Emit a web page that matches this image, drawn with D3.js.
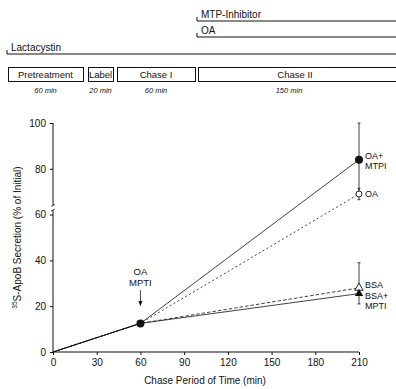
<!DOCTYPE html>
<html>
<head>
<meta charset="utf-8">
<script src="https://cdn.jsdelivr.net/npm/d3@7"></script>
<style>
  body { margin: 0; background: #fff; }
  svg { font-family: "Liberation Sans", Arial, sans-serif; }
  svg text, svg tspan { fill: #111; }
</style>
</head>
<body>
<div id="chart"></div>
<script>
// data
const times = [0, 60, 210];
const seriesNames = ["OA+MTPI", "OA", "BSA", "BSA+MPTI"];
const oaMtpi = [0, 12.5, 84];
const oa = [0, 12.5, 69];
const bsa = [0, 12.5, 28];
const bsaMpti = [0, 12.5, 25.5];
const errors = [16, 2.5, 11, 4.5];  // error at 210 min
const xTicks = [0, 30, 60, 90, 120, 150, 180, 210];
const yTicks = [0, 20, 40, 60, 80, 100];
const phases = ["Pretreatment", "Label", "Chase I", "Chase II"];
const phaseTimes = ["60 min", "20 min", "60 min", "150 min"];
const treatments = ["MTP-Inhibitor", "OA", "Lactacystin"];

const width = 396, height = 389;
const margin = {top: 123, right: 37, bottom: 37, left: 53};
const gw = width - margin.left - margin.right;
const gh = height - margin.top - margin.bottom;

const svg = d3.select("#chart").append("svg")
  .attr("width", width)
  .attr("height", height);

// treatment schedule at the top
const sched = svg.append("g").attr("class", "schedule");
const treatRows = [
  {x: 197, y: 21},
  {x: 197, y: 37},
  {x: 7, y: 54}
];
treatments.forEach((t, i) => {
  const r = treatRows[i];
  sched.append("path")
    .attr("d", `M${r.x},${r.y - 4}V${r.y}H${width}`)
    .attr("fill", "none")
    .attr("stroke", "#111")
    .attr("stroke-width", 1);
  sched.append("text")
    .attr("x", r.x + 4)
    .attr("y", r.y - 3)
    .attr("font-size", 10)
    .text(t);
});

const boxes = [[8, 83], [88, 113], [117, 195], [198, 400]];
phases.forEach((p, i) => {
  const [x0, x1] = boxes[i];
  sched.append("rect")
    .attr("x", x0 + 0.5).attr("y", 67.5)
    .attr("width", x1 - x0).attr("height", 14)
    .attr("fill", "none")
    .attr("stroke", "#111");
  sched.append("text")
    .attr("x", (x0 + Math.min(x1, width)) / 2 - (i === 3 ? 2 : 0))
    .attr("y", 78)
    .attr("text-anchor", "middle")
    .attr("font-size", 9.5)
    .text(p);
  sched.append("text")
    .attr("x", (x0 + Math.min(x1, 380)) / 2)
    .attr("y", 93)
    .attr("text-anchor", "middle")
    .attr("font-size", 7.5)
    .attr("font-style", "italic")
    .text(phaseTimes[i]);
});

// plot
const plot = svg.append("g")
  .attr("transform", `translate(${margin.left},${margin.top})`);

const x = d3.scaleLinear().domain([0, 210]).range([0, gw]);
const y = d3.scaleLinear().domain([0, 100]).range([gh, 0]);

const xAxis = d3.axisBottom(x).tickValues(xTicks).tickSize(3).tickPadding(4);
const yAxis = d3.axisLeft(y).tickValues(yTicks).tickSize(3).tickPadding(4);

const xg = plot.append("g")
  .attr("transform", `translate(0,${gh})`)
  .call(xAxis);
const yg = plot.append("g").call(yAxis);
[xg, yg].forEach(g => {
  g.selectAll("text").attr("font-size", 10)
    .attr("font-family", "Liberation Sans, Arial, sans-serif");
  g.selectAll("line").attr("stroke", "#111");
  g.select(".domain").attr("stroke", "#111");
});
xg.select(".domain").attr("d", `M0,0H${gw}`).attr("stroke-width", 1.2);
// broken y axis between 60 and 80
yg.select(".domain").attr("d",
  `M0,${y(100)}V${y(64)}M0,${y(62)}V${y(0)}`);
yg.append("path")
  .attr("d", `M-2,${y(64) + 1}L2,${y(64) - 1}M-2,${y(62) + 1}L2,${y(62) - 1}`)
  .attr("stroke", "#111").attr("stroke-width", 0.7);

// axis titles
svg.append("text")
  .attr("x", margin.left + gw / 2 - 1)
  .attr("y", 384)
  .attr("text-anchor", "middle")
  .attr("font-size", 10)
  .text("Chase Period of Time (min)");
const yt = svg.append("text")
  .attr("transform", `translate(21,${margin.top + gh / 2}) rotate(-90)`)
  .attr("text-anchor", "middle")
  .attr("font-size", 10);
yt.append("tspan").attr("font-size", 6.5).attr("dy", -4).text("35");
yt.append("tspan").attr("dy", 4).text("S-ApoB Secretion (% of Initial)");

// lines
const allSeries = [oaMtpi, oa, bsa, bsaMpti];
const dashes = [null, "2,2.5", "3.5,2", null];
const line = d3.line().x((d, i) => x(times[i])).y(d => y(d));
allSeries.forEach((s, k) => {
  plot.append("path")
    .datum(s)
    .attr("d", line)
    .attr("fill", "none")
    .attr("stroke", "#111")
    .attr("stroke-width", 0.8)
    .attr("stroke-dasharray", dashes[k]);
});

// error bars at 210
const last = times.length - 1;
allSeries.forEach((s, k) => {
  const v = s[last], e = errors[k];
  const cx = x(times[last]);
  const up = k === 3 ? v : v + e;
  const lo = k === 2 ? v : v - e;
  plot.append("line")
    .attr("x1", cx).attr("x2", cx)
    .attr("y1", y(up)).attr("y2", y(lo))
    .attr("stroke", "#111").attr("stroke-width", 0.8);
  [up, lo].forEach(t => {
    if (t === v) return;
    plot.append("line")
      .attr("x1", cx - 1.5).attr("x2", cx + 1.5)
      .attr("y1", y(t)).attr("y2", y(t))
      .attr("stroke", "#111").attr("stroke-width", 0.8);
  });
});

// markers
plot.append("circle")
  .attr("cx", x(times[1])).attr("cy", y(oaMtpi[1]))
  .attr("r", 4).attr("fill", "#111");
const triUp = d3.symbol().type(d3.symbolTriangle).size(30);
plot.append("circle")
  .attr("cx", x(times[last])).attr("cy", y(oaMtpi[last]))
  .attr("r", 4).attr("fill", "#111");
plot.append("circle")
  .attr("cx", x(times[last])).attr("cy", y(oa[last]))
  .attr("r", 3).attr("fill", "#fff").attr("stroke", "#111").attr("stroke-width", 0.9);
plot.append("path")
  .attr("d", triUp)
  .attr("transform", `translate(${x(times[last])},${y(bsa[last])})`)
  .attr("fill", "#fff").attr("stroke", "#111").attr("stroke-width", 0.9);
plot.append("path")
  .attr("d", triUp)
  .attr("transform", `translate(${x(times[last])},${y(bsaMpti[last])})`)
  .attr("fill", "#111");

// series labels
const labelLines = [["OA+", "MTPI"], ["OA"], ["BSA"], ["BSA+", "MPTI"]];
const labelDy = [-1, 3.5, 0, 5.5];
allSeries.forEach((s, k) => {
  const t = plot.append("text")
    .attr("x", x(times[last]) + 6)
    .attr("y", y(s[last]) + labelDy[k])
    .attr("font-size", 9);
  labelLines[k].forEach((l, j) => {
    t.append("tspan")
      .attr("x", x(times[last]) + 6)
      .attr("dy", j === 0 ? 0 : 10)
      .text(l);
  });
});

// annotation arrow at 60 min
const ax = x(times[1]);
plot.append("text")
  .attr("x", ax).attr("y", y(33.5))
  .attr("text-anchor", "middle").attr("font-size", 9.5)
  .text("OA");
plot.append("text")
  .attr("x", ax).attr("y", y(29))
  .attr("text-anchor", "middle").attr("font-size", 9.5)
  .text("MPTI");
plot.append("line")
  .attr("x1", ax).attr("x2", ax)
  .attr("y1", y(27)).attr("y2", y(21))
  .attr("stroke", "#111").attr("stroke-width", 0.8);
plot.append("path")
  .attr("d", `M${ax - 2},${y(21) - 3}L${ax},${y(20)}L${ax + 2},${y(21) - 3}Z`)
  .attr("fill", "#111");
</script>
</body>
</html>
